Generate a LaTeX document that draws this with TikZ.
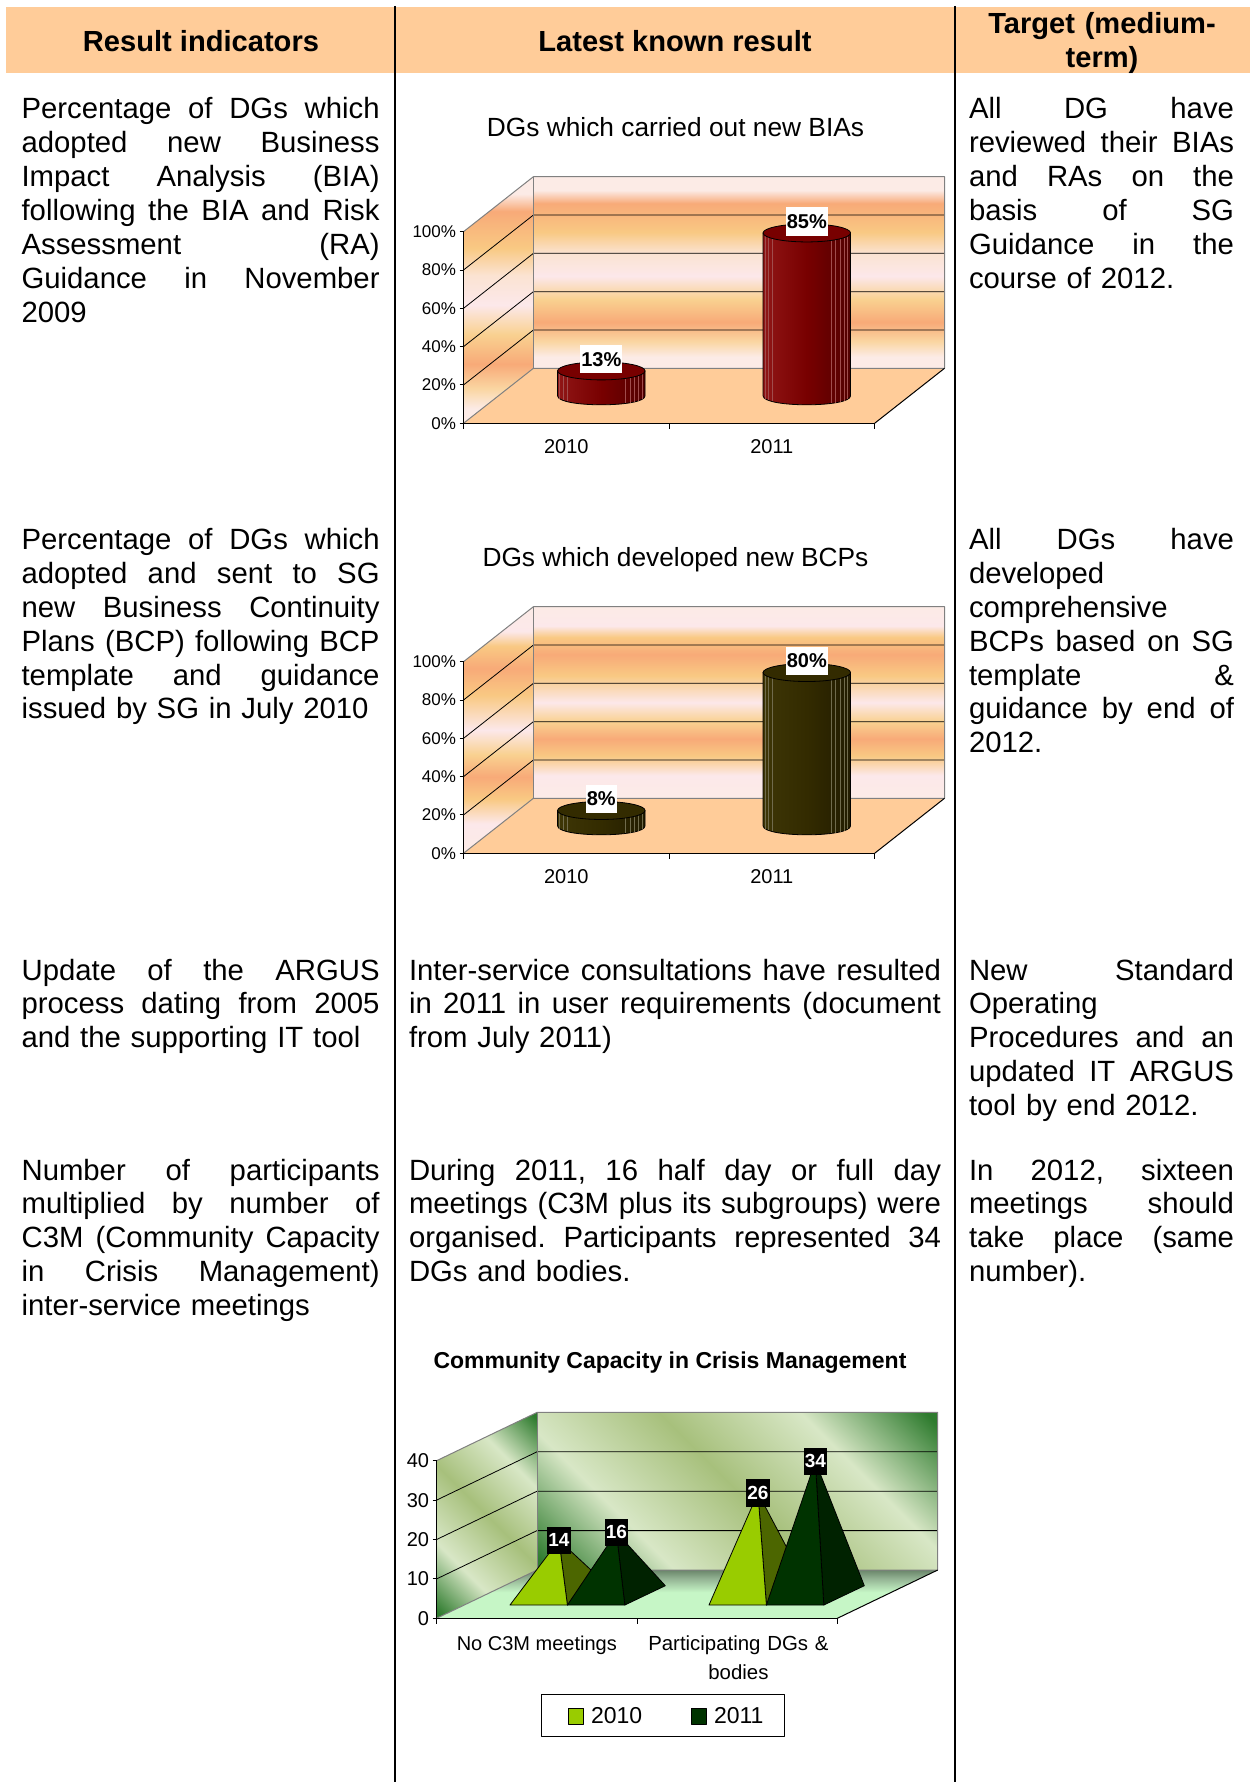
\documentclass[tikz,border=0pt]{standalone}
\usepackage{fontspec}
\setmainfont{Liberation Sans}
\usetikzlibrary{calc}
\definecolor{hdr}{HTML}{FFCC99}
\definecolor{floorO}{HTML}{FFCC99}
\definecolor{wallgrey}{HTML}{808080}
\definecolor{pk}{HTML}{FCEBE6}
\definecolor{pk2}{HTML}{FCE8EA}
\definecolor{cr}{HTML}{FBE3D2}
\definecolor{yl}{HTML}{F9C983}
\definecolor{ylL}{HTML}{FAD6A2}
\definecolor{yl2}{HTML}{F9D190}
\definecolor{sm}{HTML}{F8AA78}
\definecolor{redM}{HTML}{780000}
\definecolor{redL}{HTML}{901616}
\definecolor{redD}{HTML}{520000}
\definecolor{olM}{HTML}{332B00}
\definecolor{olL}{HTML}{3E3606}
\definecolor{olD}{HTML}{221C00}
\definecolor{gD}{HTML}{2E7B2E}
\definecolor{gL}{HTML}{D8E7C6}
\definecolor{gM}{HTML}{A7C07C}
\definecolor{fl1}{HTML}{C6F6C6}
\definecolor{fl2}{HTML}{94B494}
\definecolor{fl3}{HTML}{6A866A}
\definecolor{pyA}{HTML}{99CC00}
\definecolor{pyAs}{HTML}{4C6600}
\definecolor{pyB}{HTML}{003300}
\definecolor{pyBs}{HTML}{002200}
\pgfdeclareverticalshading{bandsA}{100bp}{color(0bp)=(pk); color(28bp)=(pk); color(32bp)=(ylL); color(37bp)=(sm); color(43bp)=(yl2); color(49bp)=(pk2); color(55bp)=(cr); color(60.5bp)=(yl); color(68bp)=(sm); color(71.5bp)=(pk); color(100bp)=(pk)}
\pgfdeclareverticalshading{bandsB}{100bp}{color(0bp)=(pk); color(25bp)=(pk); color(31bp)=(pk2); color(36bp)=(yl); color(40.5bp)=(sm); color(45bp)=(yl2); color(50bp)=(pk2); color(57bp)=(yl); color(62.5bp)=(sm); color(67bp)=(yl); color(70bp)=(pk2); color(75bp)=(pk); color(100bp)=(pk)}
\pgfdeclarehorizontalshading{greenwall}{100bp}{color(0bp)=(gD); color(16bp)=(gD); color(32bp)=(gL); color(50bp)=(gM); color(68bp)=(gL); color(84bp)=(gD); color(100bp)=(gD)}
\pgfdeclareverticalshading{greenfloor}{100bp}{color(0bp)=(fl1); color(25bp)=(fl1); color(52bp)=(fl1); color(66bp)=(fl2); color(75bp)=(fl3); color(100bp)=(fl3)}
\newcommand{\gp}{\hskip 0.278em plus 1fill\relax}
\newcommand{\jA}[1]{\leavevmode\hbox to 358pt{#1}\\}
\newcommand{\jB}[1]{\leavevmode\hbox to 532pt{#1}\\}
\newcommand{\jC}[1]{\leavevmode\hbox to 265pt{#1}\\}
% cylinder: #1 cx, #2 base y, #3 top y, #4 main, #5 light, #6 dark
\newcommand{\cyl}[6]{%
 \shade[left color=#5, right color=#6, middle color=#4, draw=black, line width=0.8pt]
  ({#1-43.75},{#3}) -- ({#1-43.75},{#2}) .. controls ({#1-43.75},{#2+12}) and ({#1+43.75},{#2+12}) .. ({#1+43.75},{#2}) -- ({#1+43.75},{#3}) -- cycle;
 \foreach \su/\sv in {-0.95/0.312,-0.87/0.493,-0.78/0.626,0.55/0.835,0.66/0.751,0.76/0.650,0.85/0.527,0.93/0.368}
  \draw[draw=#4!70!white, line width=0.5pt] ({#1+\su*43.75},{#3+\sv*9}) -- ({#1+\su*43.75},{#2+\sv*9});
 \draw[fill=#4, line width=0.8pt] ({#1},{#3}) ellipse [x radius=43.75, y radius=9];
}
% orange chart: #1 prefix, #2 y offset, #3 shading, #4 title, #5 v1, #6 v2, #7 main, #8 light, #9 dark
\newcommand{\orangechart}[9]{%
\begin{scope}[shift={(0,#2)}]
 \shade[shading=#3] (533.4,176.7) rectangle (944.5,368.3);
 \shade[shading=#3] (463.5,423.3) -- (463.5,231.7) -- (533.4,176.7) -- (533.4,368.3) -- cycle;
 \foreach \p in {20,40,60,80}
   \draw[gridl] (463.5,{423.3-1.916*\p}) -- (533.4,{368.3-1.916*\p}) -- (944.5,{368.3-1.916*\p});
 \draw[wallline] (463.5,231.7) -- (533.4,176.7) -- (944.5,176.7) -- (944.5,368.3);
 \draw[wallline] (533.4,176.7) -- (533.4,368.3);
 \fill[floorO] (463.5,423.3) -- (874.6,423.3) -- (944.5,368.3) -- (533.4,368.3) -- cycle;
 \draw[wallline] (463.5,423.3) -- (533.4,368.3) -- (944.5,368.3);
 \draw[axisline] (944.5,368.3) -- (874.6,423.3);
 \draw[axisline] (463.5,231.7) -- (463.5,423.3) -- (874.6,423.3);
 \foreach \p in {0,20,40,60,80,100} {
   \draw[axisline] (459.5,{423.3-1.916*\p}) -- (463.5,{423.3-1.916*\p});
   \node[ticklab] (#1y\p) at (456,{423.3-1.916*\p}) {\p\%};
 }
 \foreach \cx in {463.5,669,874.6}
   \draw[axisline] (\cx,423.3) -- (\cx,428.5);
 \node[catlab] (#1c1) at (566.3,446.7) {2010};
 \node[catlab] (#1c2) at (771.8,446.7) {2011};
 \node[charttitle] (#1title) at (675.5,136.8) {#4};
 \cyl{601.3}{395.8}{395.8-1.916*#5}{#7}{#8}{#9}
 \cyl{806.8}{395.8}{395.8-1.916*#6}{#7}{#8}{#9}
 \node[vallab] (#1v1) at (601.3,{395.8-1.916*#5-11.5}) {#5\%};
 \node[vallab] (#1v2) at (806.8,{395.8-1.916*#6-11.5}) {#6\%};
\end{scope}}
% pyramid: #1 x0, #2 value, #3 front, #4 side, #5 name
\newcommand{\pyr}[5]{%
 \coordinate (#5) at ({#1+28.7+20.25},{1595.35-3.94*#2});
 \filldraw[fill=#4, draw=black, line width=0.8pt] ({#1+57.4},1605) -- ({#1+97.9},1585.7) -- (#5) -- cycle;
 \filldraw[fill=#3, draw=black, line width=0.8pt] ({#1},1605) -- ({#1+57.4},1605) -- (#5) -- cycle;
}
\begin{document}
\begin{tikzpicture}[x=1pt,y=-1pt,line join=round,
  every node/.style={inner sep=0pt, outer sep=0pt},
  body/.style={font=\fontsize{29.3}{33.9}\selectfont, anchor=base west, align=left},
  hdrtext/.style={font=\bfseries\fontsize{29.1}{33.4}\selectfont, anchor=base, align=center},
  ticklab/.style={font=\fontsize{17}{20}\selectfont, anchor=east},
  ticklabG/.style={font=\fontsize{20}{24}\selectfont, anchor=east},
  catlab/.style={font=\fontsize{20}{24}\selectfont},
  charttitle/.style={font=\fontsize{26.3}{30}\selectfont, anchor=base},
  vallab/.style={fill=white, font=\bfseries\fontsize{20}{24}\selectfont, inner xsep=1pt, inner ysep=7pt},
  pyrlab/.style={fill=black, text=white, font=\bfseries\fontsize{19}{22}\selectfont, inner xsep=1pt, inner ysep=7pt},
  gridl/.style={black, line width=0.8pt},
  wallline/.style={draw=wallgrey, line width=1pt},
  axisline/.style={black, line width=1pt},
  colline/.style={black, line width=2pt}]
\useasboundingbox (0,0) rectangle (1252,1782);
\fill[white] (0,0) rectangle (1252,1782);
% header
\fill[hdr] (6,7) rectangle (1250,73);
\node[hdrtext] (h1) at (201,51.3) {Result indicators};
\node[hdrtext] (h2) at (675,51.3) {Latest known result};
\node[hdrtext, text width=290pt] (h3) at (1102,34) {Target (medium-\\term)};
% column lines
\coordinate (c1t) at (395,6); \coordinate (c1b) at (395,1782);
\coordinate (c2t) at (955,6); \coordinate (c2b) at (955,1782);
\draw[colline] (c1t) -- (c1b);
\draw[colline] (c2t) -- (c2b);
% row 1
\node[body, text width=358pt] (r1a) at (21.6,119) {\jA{Percentage\gp of\gp DGs\gp which}\jA{adopted\gp new\gp Business}\jA{Impact\gp Analysis\gp (BIA)}\jA{following\gp the\gp BIA\gp and\gp Risk}\jA{Assessment\gp (RA)}\jA{Guidance\gp in\gp November}2009};
\node[body, text width=265pt] (r1c) at (969,119) {\jC{All\gp DG\gp have}\jC{reviewed\gp their\gp BIAs}\jC{and\gp RAs\gp on\gp the}\jC{basis\gp of\gp SG}\jC{Guidance\gp in\gp the}course of 2012.};
% row 2
\node[body, text width=358pt] (r2a) at (21.6,549.4) {\jA{Percentage\gp of\gp DGs\gp which}\jA{adopted\gp and\gp sent\gp to\gp SG}\jA{new\gp Business\gp Continuity}\jA{Plans\gp (BCP)\gp following\gp BCP}\jA{template\gp and\gp guidance}issued by SG in July 2010};
\node[body, text width=265pt] (r2c) at (969,549.4) {\jC{All\gp DGs\gp have}developed\\comprehensive\\\jC{BCPs\gp based\gp on\gp SG}\jC{template\gp \&}\jC{guidance\gp by\gp end\gp of}2012.};
% row 3
\node[body, text width=358pt] (r3a) at (21.6,980) {\jA{Update\gp of\gp the\gp ARGUS}\jA{process\gp dating\gp from\gp 2005}and the supporting IT tool};
\node[body, text width=532pt] (r3b) at (409,980) {\jB{Inter-service\gp consultations\gp have\gp resulted}\jB{in\gp 2011\gp in\gp user\gp requirements\gp (document}from July 2011)};
\node[body, text width=265pt] (r3c) at (969,980) {\jC{New\gp Standard}Operating\\\jC{Procedures\gp and\gp an}\jC{updated\gp IT\gp ARGUS}tool by end 2012.};
% row 4
\node[body, text width=358pt] (r4a) at (21.6,1180) {\jA{Number\gp of\gp participants}\jA{multiplied\gp by\gp number\gp of}\jA{C3M\gp (Community\gp Capacity}\jA{in\gp Crisis\gp Management)}inter-service meetings};
\node[body, text width=532pt] (r4b) at (409,1180) {\jB{During\gp 2011,\gp 16\gp half\gp day\gp or\gp full\gp day}\jB{meetings\gp (C3M\gp plus\gp its\gp subgroups)\gp were}\jB{organised.\gp Participants\gp represented\gp 34}DGs and bodies.};
\node[body, text width=265pt] (r4c) at (969,1180) {\jC{In\gp 2012,\gp sixteen}\jC{meetings\gp should}\jC{take\gp place\gp (same}number).};
% charts 1 and 2
\orangechart{ca}{0}{bandsA}{DGs which carried out new BIAs}{13}{85}{redM}{redL}{redD}
\orangechart{cb}{430}{bandsB}{DGs which developed new BCPs}{8}{80}{olM}{olL}{olD}
% chart 3
\node[font=\bfseries\fontsize{23}{27}\selectfont, anchor=base] (c3title) at (670,1368.3) {Community Capacity in Crisis Management};
\shade[shading=greenwall, shading angle=45] (537,1412.4) rectangle (937.7,1570);
\shade[shading=greenwall, shading angle=45] (436.6,1618.3) -- (436.6,1460.7) -- (537,1412.4) -- (537,1570) -- cycle;
\foreach \v in {10,20,30}
  \draw[gridl] (436.6,{1618.3-3.94*\v}) -- (537,{1570-3.94*\v}) -- (937.7,{1570-3.94*\v});
\draw[wallline] (436.6,1460.7) -- (537,1412.4) -- (937.7,1412.4) -- (937.7,1570);
\draw[wallline] (537,1412.4) -- (537,1570);
\shade[shading=greenfloor] (436.6,1618.3) -- (837.3,1618.3) -- (937.7,1570) -- (537,1570) -- cycle;
\draw[wallline] (436.6,1618.3) -- (537,1570) -- (937.7,1570);
\draw[axisline] (937.7,1570) -- (837.3,1618.3);
\draw[axisline] (436.6,1460.7) -- (436.6,1618.3) -- (837.3,1618.3);
\foreach \v in {0,10,20,30,40} {
  \draw[axisline] (432.6,{1618.3-3.94*\v}) -- (436.6,{1618.3-3.94*\v});
  \node[ticklabG] (cy\v) at (429,{1618.3-3.94*\v}) {\v};
}
\foreach \cx in {436.6,637,837.3}
  \draw[axisline] (\cx,1618.3) -- (\cx,1623.5);
\node[catlab, anchor=base] (k1) at (536.8,1650) {No C3M meetings};
\node[catlab, anchor=base, text width=200pt, align=center, font=\fontsize{20.4}{29}\selectfont] (k2) at (738.4,1650) {Participating DGs \&\\bodies};
\pyr{510}{14}{pyA}{pyAs}{p1}
\pyr{567.4}{16}{pyB}{pyBs}{p2}
\pyr{709}{26}{pyA}{pyAs}{p3}
\pyr{766.4}{34}{pyB}{pyBs}{p4}
\node[pyrlab] (l1) at (p1) {14};
\node[pyrlab] (l2) at (p2) {16};
\node[pyrlab] (l3) at (p3) {26};
\node[pyrlab] (l4) at (p4) {34};
% legend
\node[draw=black, line width=0.8pt, fill=white, minimum width=242.7pt, minimum height=42.7pt] (legend) at (663,1715.3) {};
\filldraw[fill=pyA, draw=black, line width=0.8pt] (568.5,1708) rectangle (583.5,1724);
\filldraw[fill=pyB, draw=black, line width=0.8pt] (691,1708) rectangle (706,1724);
\node[font=\fontsize{23}{27}\selectfont, anchor=west] (lg1) at (591,1716) {2010};
\node[font=\fontsize{23}{27}\selectfont, anchor=west] (lg2) at (714,1716) {2011};
\end{tikzpicture}
\end{document}
